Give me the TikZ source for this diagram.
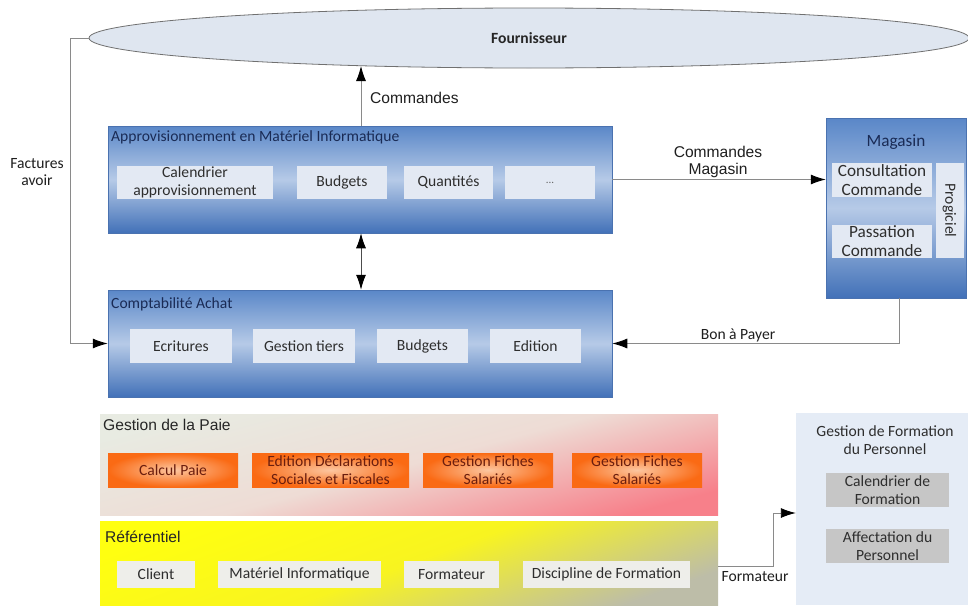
\documentclass[tikz,border=0pt]{standalone}
\usepackage{fontspec}
\setmainfont{Carlito}
\newfontfamily\arialf{Liberation Sans}
\usetikzlibrary{arrows.meta,shapes.geometric,calc}
\definecolor{ellfill}{HTML}{DFE6F0}
\definecolor{ellline}{HTML}{707070}
\definecolor{blueA}{HTML}{5A87C8}
\definecolor{blueB}{HTML}{B6CAE7}
\definecolor{blueC}{HTML}{4271B8}
\definecolor{blueedge}{HTML}{4A72B0}
\definecolor{navy}{HTML}{1A2B55}
\definecolor{subfill}{HTML}{E3E9F3}
\definecolor{txt}{HTML}{2E2E2E}
\definecolor{lineg}{HTML}{8A8A8A}
\definecolor{paieA}{HTML}{E8EBE2}
\definecolor{paieM}{HTML}{EEDCD5}
\definecolor{paieB}{HTML}{F7808A}
\definecolor{orIn}{HTML}{FCC6A0}
\definecolor{orOut}{HTML}{FA6A14}
\definecolor{ortxt}{HTML}{6B1E0E}
\definecolor{refA}{HTML}{FFFF10}
\definecolor{refM}{HTML}{F8F420}
\definecolor{refB}{HTML}{BDBDA8}
\definecolor{reffill}{HTML}{EEEEEA}
\definecolor{formfill}{HTML}{E5ECF6}
\definecolor{grayfill}{HTML}{C6C6C6}
\newcommand\myfs{\fontsize{15.6pt}{17.5pt}\selectfont}
\newcommand\myfsb{\fontsize{17.2pt}{19pt}\selectfont}
\begin{document}
\begin{tikzpicture}[x=1pt,y=-1pt,
  bluebox/.style={draw=blueedge, line width=0.5pt, top color=blueA, bottom color=blueC, middle color=blueB, inner sep=0pt},
  sub/.style={fill=subfill, inner sep=0pt, align=center, text=txt, font=\myfs},
  title/.style={anchor=west, inner sep=0pt, text=navy, font=\myfs},
  orbox/.style={inner color=orIn, outer color=orOut, inner sep=0pt, align=center, text=ortxt, font=\myfs, minimum width=130pt, minimum height=34pt},
  refsub/.style={fill=reffill, inner sep=0pt, align=center, text=txt, font=\myfs, minimum height=27pt},
  graysub/.style={fill=grayfill, inner sep=0pt, align=center, text=txt, font=\myfs, minimum width=123pt, minimum height=34pt},
  lbl/.style={inner sep=0pt, align=center, text=black!88, font=\myfs},
  arr/.style={draw=lineg, line width=0.9pt, -{Latex[length=15pt,width=10pt,color=black]}},
  darr/.style={draw=black!70, line width=0.9pt, {Latex[length=15pt,width=10pt,color=black]}-{Latex[length=15pt,width=10pt,color=black]}},
  seg/.style={draw=lineg, line width=0.9pt}
]
\useasboundingbox (0,0) rectangle (968,605);
\fill[white] (0,0) rectangle (968,605);

% Fournisseur
\node[ellipse, draw=ellline, fill=ellfill, line width=0.8pt, minimum width=880pt, minimum height=60pt, inner sep=0pt, font=\myfs\bfseries, text=black!85] (fourn) at (529,38) {Fournisseur};

% Approvisionnement
\node[bluebox, minimum width=504pt, minimum height=107pt] (appro) at (360,179.5) {};
\node[title] (approt) at (111,137) {Approvisionnement en Mat\'eriel Informatique};
\node[sub, minimum width=156pt, minimum height=33pt] (a1) at (195,182.5) {Calendrier\\approvisionnement};
\node[sub, minimum width=90pt, minimum height=33pt] (a2) at (342,182.5) {Budgets};
\node[sub, minimum width=89pt, minimum height=33pt] (a3) at (448.5,182.5) {Quantit\'es};
\node[sub, minimum width=90pt, minimum height=33pt, font=\fontsize{11pt}{12pt}\selectfont, text=black!60] (a4) at (550,182.5) {...};

% Comptabilite
\node[bluebox, minimum width=504pt, minimum height=107pt] (compta) at (360,343.5) {};
\node[title] (comptat) at (111,304) {Comptabilit\'e Achat};
\node[sub, minimum width=102pt, minimum height=34pt] (c1) at (181,346) {Ecritures};
\node[sub, minimum width=102pt, minimum height=34pt] (c2) at (304,346) {Gestion tiers};
\node[sub, minimum width=91pt, minimum height=34pt] (c3) at (422.5,346) {Budgets};
\node[sub, minimum width=91pt, minimum height=34pt] (c4) at (535.5,346) {Edition};

% Magasin
\node[bluebox, minimum width=140pt, minimum height=180pt] (mag) at (896,208) {};
\node[inner sep=0pt, text=navy, font=\myfsb] (magt) at (896,142) {Magasin};
\node[sub, font=\myfsb, minimum width=100pt, minimum height=34pt] (m1) at (882,180) {Consultation\\Commande};
\node[sub, font=\myfsb, minimum width=100pt, minimum height=33pt] (m2) at (882,241.5) {Passation\\Commande};
\node[sub, rotate=-90, minimum width=95pt, minimum height=28pt] (m3) at (949.5,210.5) {Progiciel};

% Gestion de la Paie
\node[top color=paieA, bottom color=paieB, middle color=paieM, shading angle=15, inner sep=0pt, minimum width=618pt, minimum height=101pt] (paie) at (409,464.5) {};
\node[anchor=west, inner sep=0pt, font=\arialf\myfs, text=black!85] (paiet) at (103,425) {Gestion de la Paie};
\node[orbox] (p1) at (173,470) {Calcul Paie};
\node[orbox, minimum width=157pt] (p2) at (330.5,470) {Edition D\'eclarations\\Sociales et Fiscales};
\node[orbox] (p3) at (488,470) {Gestion Fiches\\Salari\'es};
\node[orbox] (p4) at (637,470) {Gestion Fiches\\Salari\'es};

% Referentiel
\node[top color=refA, bottom color=refB, middle color=refM, shading angle=20, inner sep=0pt, minimum width=618pt, minimum height=84pt] (ref) at (409,563) {};
\node[anchor=west, inner sep=0pt, font=\arialf\myfs, text=black!85] (reft) at (105,537) {R\'ef\'erentiel};
\node[refsub, minimum width=78pt] (r1) at (156,574.5) {Client};
\node[refsub, minimum width=163pt] (r2) at (299.5,574.5) {Mat\'eriel Informatique};
\node[refsub, minimum width=95pt] (r3) at (451.5,574.5) {Formateur};
\node[refsub, minimum width=167pt] (r4) at (606.5,574.5) {Discipline de Formation};

% Formation
\node[fill=formfill, inner sep=0pt, minimum width=172pt, minimum height=192pt] (form) at (882,509) {};
\node[inner sep=0pt, align=center, text=txt, font=\myfs] (formt) at (885,440) {Gestion de Formation\\du Personnel};
\node[graysub] (f1) at (887.5,490) {Calendrier de\\Formation};
\node[graysub] (f2) at (887.5,546) {Affectation du\\Personnel};

% connectors
\coordinate (xcmd) at (361,0);
\coordinate (cmdtop) at (361,66);
\coordinate (xbon) at (899,0);
\coordinate (yform1) at (0,566);
\coordinate (yform2) at (0,513);
\coordinate (fl) at (70,38);
\draw[arr] (appro.north -| xcmd) -- (cmdtop);
\draw[darr] (appro.south -| xcmd) -- (compta.north -| xcmd);
\draw[arr] (appro.east) -- (appro.east -| mag.west);
\draw[arr] (mag.south -| xbon) |- (compta.east);
\draw[seg] (fourn.west) -- (fl);
\draw[arr] (fl) |- (compta.west);
\draw[arr] (ref.east |- yform1) -- ++(55,0) |- (form.west |- yform2);

% labels
\node[lbl, anchor=west, font=\arialf\myfs] (lcmd) at (370,98) {Commandes};
\node[lbl, font=\arialf\myfs, align=center] (lcmdm) at (718,162) {Commandes\\Magasin};
\node[lbl] (lbon) at (738,335) {Bon \`a Payer};
\node[lbl] (lfact) at (37,172) {Factures\\avoir};
\node[lbl] (lform) at (755,577) {Formateur};
\end{tikzpicture}
\end{document}
